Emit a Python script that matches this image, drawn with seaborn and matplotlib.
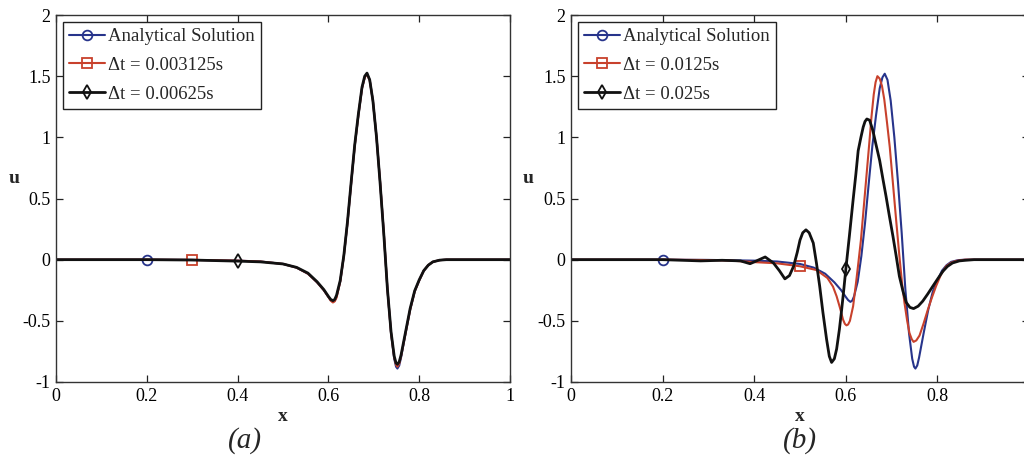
import numpy as np
import pandas as pd
import matplotlib
matplotlib.use("Agg")
import matplotlib.pyplot as plt
from matplotlib.lines import Line2D
import seaborn as sns

# ---------------- data ----------------
x_ticks = [0, 0.2, 0.4, 0.6, 0.8, 1.0]
x_tick_labels_a = ["0", "0.2", "0.4", "0.6", "0.8", "1"]
x_tick_labels_b = ["0", "0.2", "0.4", "0.6", "0.8", ""]   # "1" falls outside the picture
y_ticks = [-1, -0.5, 0, 0.5, 1, 1.5, 2]
y_tick_labels = ["-1", "-0.5", "0", "0.5", "1", "1.5", "2"]

# shared x grid for analytical solution and panel (a) numerical results
x_grid = [0.0, 0.1, 0.2, 0.3, 0.4, 0.45, 0.5, 0.53, 0.555, 0.575, 0.59, 0.6, 0.605, 0.61,
          0.614, 0.618, 0.626, 0.634, 0.642, 0.65, 0.658, 0.666, 0.674, 0.68, 0.685, 0.691,
          0.698, 0.706, 0.714, 0.722, 0.73, 0.738, 0.745, 0.749, 0.752, 0.756, 0.76, 0.77,
          0.78, 0.79, 0.8, 0.81, 0.82, 0.83, 0.845, 0.86, 1.0]

u_analytical = [0.0, 0.0, 0.0, -0.002, -0.008, -0.015, -0.035, -0.065, -0.115, -0.185,
                -0.25, -0.305, -0.33, -0.345, -0.335, -0.30, -0.18, 0.03, 0.30, 0.62, 0.93,
                1.18, 1.40, 1.49, 1.52, 1.47, 1.30, 1.00, 0.63, 0.22, -0.24, -0.60, -0.81,
                -0.875, -0.89, -0.865, -0.80, -0.60, -0.41, -0.26, -0.17, -0.09, -0.045,
                -0.018, -0.004, 0.0, 0.0]

u_a_dt1 = [0.0, 0.0, 0.0, -0.002, -0.008, -0.015, -0.035, -0.065, -0.115, -0.185,
           -0.25, -0.305, -0.335, -0.35, -0.34, -0.31, -0.18, 0.03, 0.30, 0.62, 0.93,
           1.18, 1.40, 1.49, 1.515, 1.465, 1.30, 1.00, 0.63, 0.22, -0.24, -0.60, -0.80,
           -0.86, -0.875, -0.85, -0.79, -0.60, -0.41, -0.26, -0.17, -0.09, -0.045,
           -0.018, -0.004, 0.0, 0.0]

u_a_dt2 = [0.0, 0.0, 0.0, -0.003, -0.012, -0.018, -0.035, -0.063, -0.11, -0.18,
           -0.245, -0.30, -0.325, -0.335, -0.325, -0.29, -0.17, 0.035, 0.31, 0.63, 0.94,
           1.19, 1.41, 1.50, 1.525, 1.47, 1.30, 1.00, 0.62, 0.21, -0.24, -0.59, -0.79,
           -0.845, -0.855, -0.835, -0.78, -0.59, -0.40, -0.255, -0.165, -0.09, -0.045,
           -0.018, -0.004, 0.0, 0.0]

# panel (b) numerical results
x_b_dt1 = [0.0, 0.1, 0.2, 0.3, 0.35, 0.4, 0.45, 0.5, 0.536, 0.56, 0.572, 0.58, 0.587,
           0.594, 0.598, 0.6015, 0.605, 0.609, 0.616, 0.622, 0.627, 0.633, 0.639, 0.645,
           0.651, 0.656, 0.661, 0.665, 0.669, 0.674, 0.679, 0.684, 0.69, 0.696, 0.703,
           0.71, 0.717, 0.723, 0.728, 0.734, 0.739, 0.744, 0.748, 0.754, 0.761, 0.77,
           0.779, 0.788, 0.797, 0.808, 0.819, 0.83, 0.841, 0.86, 1.0]
u_b_dt1 = [0.0, 0.0, 0.0, -0.003, -0.008, -0.02, -0.03, -0.054, -0.085, -0.15, -0.22,
           -0.30, -0.39, -0.49, -0.525, -0.537, -0.53, -0.50, -0.38, -0.20, -0.04, 0.16,
           0.42, 0.68, 0.94, 1.165, 1.35, 1.45, 1.50, 1.48, 1.42, 1.31, 1.12, 0.92, 0.62,
           0.32, 0.03, -0.20, -0.35, -0.50, -0.60, -0.65, -0.672, -0.66, -0.62, -0.52,
           -0.41, -0.31, -0.217, -0.12, -0.054, -0.025, -0.01, 0.0, 0.0]

x_b_dt2 = [0.0, 0.1, 0.2, 0.283, 0.33, 0.37, 0.391, 0.405, 0.424, 0.442, 0.455, 0.467,
           0.477, 0.486, 0.494, 0.5, 0.506, 0.513, 0.52, 0.529, 0.536, 0.543, 0.55,
           0.558, 0.564, 0.569, 0.575, 0.58, 0.586, 0.591, 0.596, 0.6, 0.608, 0.616,
           0.622, 0.627, 0.633, 0.638, 0.642, 0.646, 0.652, 0.659, 0.666, 0.674, 0.681,
           0.688, 0.695, 0.703, 0.71, 0.717, 0.725, 0.732, 0.74, 0.748, 0.758, 0.768,
           0.779, 0.79, 0.801, 0.812, 0.822, 0.833, 0.848, 0.862, 0.88, 1.0]
u_b_dt2 = [0.0, 0.0, 0.0, -0.01, -0.005, -0.01, -0.033, -0.01, 0.022, -0.027, -0.09,
           -0.157, -0.13, -0.054, 0.06, 0.16, 0.22, 0.244, 0.22, 0.136, -0.03, -0.217,
           -0.43, -0.65, -0.79, -0.84, -0.81, -0.73, -0.57, -0.407, -0.23, -0.08, 0.20,
           0.49, 0.70, 0.89, 1.00, 1.084, 1.13, 1.15, 1.14, 1.057, 0.94, 0.81, 0.66,
           0.515, 0.36, 0.19, 0.03, -0.136, -0.26, -0.35, -0.39, -0.40, -0.38, -0.339,
           -0.28, -0.217, -0.155, -0.095, -0.055, -0.027, -0.01, -0.005, 0.0, 0.0]

labels_a = ["Analytical Solution", "\u0394t = 0.003125s", "\u0394t = 0.00625s"]
labels_b = ["Analytical Solution", "\u0394t = 0.0125s", "\u0394t = 0.025s"]

# x positions where the single marker of each curve is shown
marker_x_a = [0.2, 0.3, 0.4]
marker_x_b = [0.2, 0.5, 0.6]

# ---------------- style ----------------
sns.set_style("ticks")
plt.rcParams["font.family"] = ["Liberation Serif", "DejaVu Serif"]

BLUE = "#27348b"
RED = "#c8412c"
BLACK = "#111111"
styles = [
    dict(color=BLUE, marker="o", lw=1.5, ms=7),
    dict(color=RED, marker="s", lw=1.5, ms=6.5),
    dict(color=BLACK, marker="d", lw=2.0, ms=7),
]

fig = plt.figure(figsize=(10.24, 4.66), dpi=100)
ax_a = fig.add_axes([56 / 1024, 1 - 382 / 466, 454 / 1024, 367 / 466])
ax_b = fig.add_axes([571 / 1024, 1 - 382 / 466, 458 / 1024, 367 / 466])


def draw(ax, series, labels, marker_xs, xtl, ylab_x):
    handles = []
    for (xs, us), lab, mx, st in zip(series, labels, marker_xs, styles):
        df = pd.DataFrame({"x": xs, "u": us})
        idx = int(np.argmin(np.abs(np.asarray(xs) - mx)))
        sns.lineplot(data=df, x="x", y="u", ax=ax, color=st["color"], lw=st["lw"],
                     marker=st["marker"], markevery=[idx], markersize=st["ms"],
                     markerfacecolor="none", markeredgecolor=st["color"],
                     markeredgewidth=1.3, errorbar=None, sort=False)
        handles.append(Line2D([], [], color=st["color"], lw=st["lw"], marker=st["marker"],
                              markersize=st["ms"], markerfacecolor="none",
                              markeredgecolor=st["color"], markeredgewidth=1.3, label=lab))
    ax.set_xlim(0, 1)
    ax.set_ylim(-1, 2)
    ax.set_xticks(x_ticks)
    ax.set_xticklabels(xtl)
    ax.set_yticks(y_ticks)
    ax.set_yticklabels(y_tick_labels)
    ax.tick_params(direction="in", length=5, width=0.9, top=True, right=True,
                   labelsize=13, colors="#222222", labelcolor="black", pad=4)
    for sp in ax.spines.values():
        sp.set_visible(True)
        sp.set_linewidth(1.0)
        sp.set_color("#333333")
    ax.set_xlabel("x", fontsize=14, fontweight="bold")
    ax.xaxis.set_label_coords(0.5, -0.07)
    ax.set_ylabel("u", fontsize=14, fontweight="bold", rotation=0)
    ax.yaxis.set_label_coords(ylab_x, 0.53)
    leg = ax.legend(handles=handles, loc="upper left", fontsize=13.5, frameon=True,
                    fancybox=False, framealpha=1, edgecolor="#222222",
                    handlelength=1.9, handletextpad=0.15, labelspacing=0.62,
                    borderpad=0.35, borderaxespad=0.35, numpoints=1)
    leg.get_frame().set_linewidth(1.0)


draw(ax_a,
     [(x_grid, u_analytical), (x_grid, u_a_dt1), (x_grid, u_a_dt2)],
     labels_a, marker_x_a, x_tick_labels_a, -0.092)
draw(ax_b,
     [(x_grid, u_analytical), (x_b_dt1, u_b_dt1), (x_b_dt2, u_b_dt2)],
     labels_b, marker_x_b, x_tick_labels_b, -0.094)

fig.text(245 / 1024, 1 - 441 / 466, "(a)", fontsize=21, style="italic",
         ha="center", va="center")
fig.text(800 / 1024, 1 - 441 / 466, "(b)", fontsize=21, style="italic",
         ha="center", va="center")

fig.savefig("out.png", dpi=100)
